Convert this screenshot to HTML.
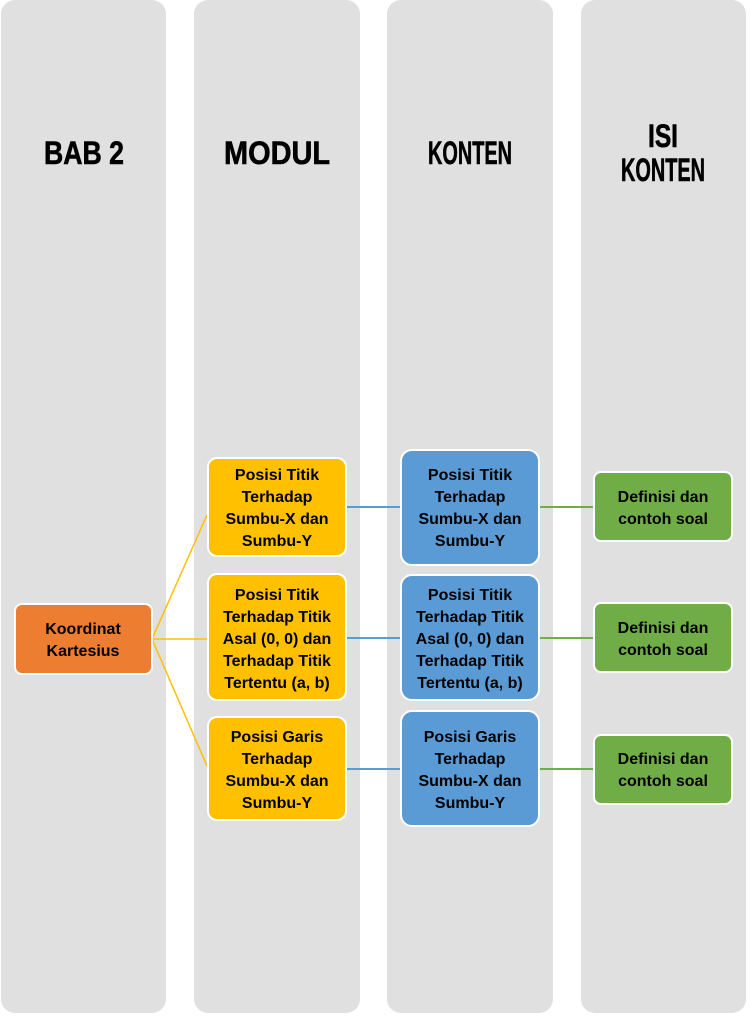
<!DOCTYPE html>
<html><head><style>body{margin:0;background:#fff}svg{display:block}</style></head><body>
<svg width="751" height="1019" viewBox="0 0 751 1019" xmlns="http://www.w3.org/2000/svg" font-family="Liberation Sans, sans-serif" font-weight="bold">
<g fill="#e0e0e0">
<rect x="1" y="0" width="165" height="1013" rx="14"/>
<rect x="194" y="0" width="166" height="1013" rx="14"/>
<rect x="387" y="0" width="166" height="1013" rx="14"/>
<rect x="581" y="0" width="165" height="1013" rx="14"/>
</g>
<g font-size="32" text-anchor="middle" fill="#000" stroke="#000" stroke-width="0.6">
<text x="84" y="164" textLength="80" lengthAdjust="spacingAndGlyphs">BAB 2</text>
<text x="277" y="164" textLength="106" lengthAdjust="spacingAndGlyphs">MODUL</text>
<text x="470" y="164" textLength="84" lengthAdjust="spacingAndGlyphs">KONTEN</text>
<text x="663" y="147" textLength="30" lengthAdjust="spacingAndGlyphs">ISI</text>
<text x="663" y="181" textLength="84" lengthAdjust="spacingAndGlyphs">KONTEN</text>
</g>
<g stroke="#ffc000" stroke-width="1.5" fill="none">
<path d="M152 639 L207 515 M152 639 L207 639 M152 639 L207 766"/>
</g>
<g stroke="#5b9bd5" stroke-width="2"><path d="M346 507H401M346 638H401M346 769H401"/></g>
<g stroke="#70ad47" stroke-width="2"><path d="M539 507H594M539 638H594M539 769H594"/></g>
<g stroke="#fff" stroke-width="2">
<rect x="15" y="604" width="137" height="70" rx="7" fill="#ed7d31"/>
<rect x="208" y="458" width="138" height="98" rx="9" fill="#ffc000"/>
<rect x="208" y="574" width="138" height="126" rx="9" fill="#ffc000"/>
<rect x="208" y="717" width="138" height="103" rx="9" fill="#ffc000"/>
<rect x="401" y="450" width="138" height="115" rx="11" fill="#5b9bd5"/>
<rect x="401" y="575" width="138" height="125" rx="11" fill="#5b9bd5"/>
<rect x="401" y="711" width="138" height="115" rx="11" fill="#5b9bd5"/>
<rect x="594" y="472" width="138" height="69" rx="7" fill="#70ad47"/>
<rect x="594" y="603" width="138" height="69" rx="7" fill="#70ad47"/>
<rect x="594" y="735" width="138" height="69" rx="7" fill="#70ad47"/>
</g>
<g font-size="16" text-anchor="middle" fill="#000">
<text x="83" y="634">Koordinat</text><text x="83" y="656">Kartesius</text>
<text x="277" y="480">Posisi Titik</text><text x="277" y="502">Terhadap</text><text x="277" y="524">Sumbu-X dan</text><text x="277" y="546">Sumbu-Y</text>
<text x="277" y="600">Posisi Titik</text><text x="277" y="622">Terhadap Titik</text><text x="277" y="644">Asal (0, 0) dan</text><text x="277" y="666">Terhadap Titik</text><text x="277" y="688">Tertentu (a, b)</text>
<text x="277" y="742">Posisi Garis</text><text x="277" y="764">Terhadap</text><text x="277" y="786">Sumbu-X dan</text><text x="277" y="808">Sumbu-Y</text>
<text x="470" y="480">Posisi Titik</text><text x="470" y="502">Terhadap</text><text x="470" y="524">Sumbu-X dan</text><text x="470" y="546">Sumbu-Y</text>
<text x="470" y="600">Posisi Titik</text><text x="470" y="622">Terhadap Titik</text><text x="470" y="644">Asal (0, 0) dan</text><text x="470" y="666">Terhadap Titik</text><text x="470" y="688">Tertentu (a, b)</text>
<text x="470" y="742">Posisi Garis</text><text x="470" y="764">Terhadap</text><text x="470" y="786">Sumbu-X dan</text><text x="470" y="808">Sumbu-Y</text>
<text x="663" y="502">Definisi dan</text><text x="663" y="524">contoh soal</text>
<text x="663" y="633">Definisi dan</text><text x="663" y="655">contoh soal</text>
<text x="663" y="764">Definisi dan</text><text x="663" y="786">contoh soal</text>
</g>
</svg>
</body></html>
